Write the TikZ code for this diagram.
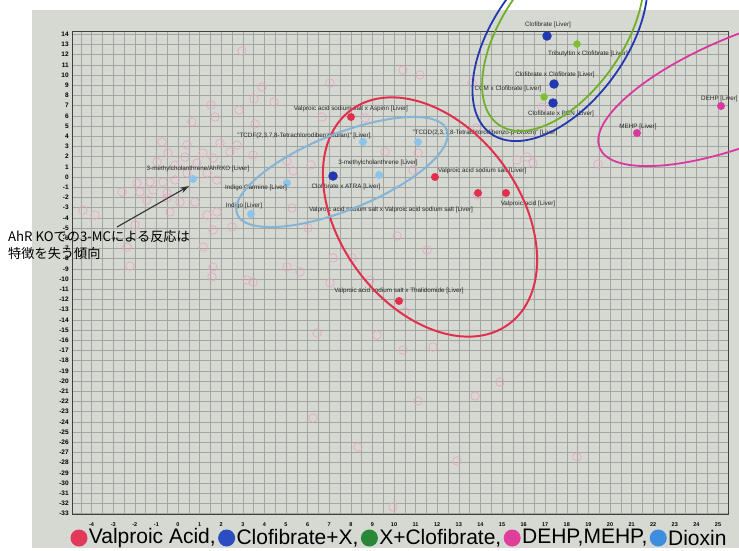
\documentclass[tikz,border=0pt]{standalone}
\usepackage{fontspec}
\setmainfont{Liberation Sans}
\newfontfamily\jpfont{Noto Sans CJK JP}
\usetikzlibrary{positioning}
\usetikzlibrary{arrows.meta}
\definecolor{plotbg}{RGB}{214,216,210}
\definecolor{gridcol}{RGB}{163,166,160}
\definecolor{vared}{RGB}{226,48,76}
\definecolor{cxblue}{RGB}{34,56,176}
\definecolor{xcgreen}{RGB}{124,194,46}
\definecolor{demag}{RGB}{216,56,160}
\definecolor{dxblue}{RGB}{140,196,236}
\definecolor{bgpink}{RGB}{238,160,198}
\definecolor{lgred}{RGB}{226,56,90}
\definecolor{lgblue}{RGB}{42,78,192}
\definecolor{lggreen}{RGB}{40,136,56}
\definecolor{lgmag}{RGB}{224,62,154}
\definecolor{lgsky}{RGB}{62,142,224}
\tikzset{
	ptnode/.style = {circle, inner sep=0pt, minimum size=8pt},
	pt_va/.style = {ptnode, fill=vared},% valproic acid
	pt_cx/.style = {ptnode, fill=cxblue, minimum size=9.5pt},% clofibrate + x
	pt_xc/.style = {ptnode, fill=xcgreen, minimum size=7.5pt},% x + clofibrate
	pt_de/.style = {ptnode, fill=demag},% dehp, mehp
	pt_dx/.style = {ptnode, fill=dxblue},% dioxin
	pt_bg/.style = {ptnode, draw=bgpink, line width=0.6pt, minimum size=8.5pt},% other samples
	lbl/.style = {inner sep=0pt, text=black!85, font=\fontsize{6.3}{7}\selectfont},
	tick_y/.style = {inner sep=0pt, anchor=east, font=\fontsize{6.5}{7}\selectfont\bfseries},
	tick_x/.style = {inner sep=0pt, font=\fontsize{5.5}{6}\selectfont\bfseries},
	gridline/.style = {gridcol, line width=0.5pt},
	plotframe/.style = {draw=black!75, line width=1pt},
	ell/.style = {line width=2pt},
	anno/.style = {inner sep=0pt, align=left, font=\jpfont\fontsize{13.2}{16.5}\selectfont},
	annot/.style = {draw=black!80, line width=1.1pt},
	lg_dot/.style = {circle, inner sep=0pt, minimum size=17pt},
	lg_txt/.style = {inner sep=0pt, font=\fontsize{21}{24}\selectfont}
}
\begin{document}
\begin{tikzpicture}[x=1pt, y=-1pt, >={Stealth[length=9pt,width=6pt]}]
\useasboundingbox (0,0) rectangle (739,550);
\clip (0,0) rectangle (739,550);
\fill[plotbg] (32,10) rectangle (739,548);

% grid and axes, in data units
\begin{scope}[shift={(178,177)}, x=21.6pt, y=10.2pt]
	\foreach \gx in {-4.5,-4,...,25} \draw[gridline] (\gx,-33.1) -- (\gx,14.3);
	\foreach \gy in {-33,...,14} \draw[gridline] (-4.9,\gy) -- (25.5,\gy);
	\draw[plotframe] (-4.9,-33.1) rectangle (25.5,14.3);
	\foreach \gy [count=\i] in {-33,...,14} \node[tick_y] (ty\i) at (-5.05,\gy) {\gy};
	\foreach \gx [count=\i] in {-4,...,25} \node[tick_x] (tx\i) at (\gx,-34.05) {\gx};
\end{scope}

% other samples
\foreach \bx/\by [count=\i] in {242/51,330/83,262/87,254/99,274/102,211/105,239/110,215/117,
	192/122,255/124,322/117,365/118,403/70,420/75,472/83,542/107,476/128,
	162/142,187/145,220/143,237/145,168/153,185/157,203/153,213/158,230/152,
	157/162,175/165,197/163,253/155,287/161,311/165,293/171,137/183,150/182,
	163/182,122/192,140/192,153/190,167/193,175/180,187/173,207/173,217/180,
	147/200,167/198,180/202,195/202,83/210,95/215,170/212,207/215,217/212,
	213/230,232/227,135/225,203/247,127/247,130/266,308/228,292/208,
	385/152,418/153,413/170,517/160,527/157,533/163,598/164,477/195,397/236,
	427/250,333/258,352/258,287/267,300/272,247/280,253/282,330/283,370/280,
	213/267,212/277,405/312,377/335,403/350,433/347,500/382,475/396,418/401,
	457/461,577/457,393/507,317/333,313/418,358/447}
	\node[pt_bg] (bg\i) at (\bx,\by) {};

% valproic acid
\node[pt_va] (va1) at (351,117) {};
\node[pt_va] (va2) at (435,177) {};
\node[pt_va] (va3) at (478,193) {};
\node[pt_va] (va4) at (506,193) {};
\node[pt_va] (va5) at (399,301) {};
\node[lbl] (va1_l) at (351,109) {Valproic acid sodium salt x Aspirin [Liver]};
\node[lbl, anchor=west] (va2_l) at (438,171) {Valproic acid sodium salt [Liver]};
\node[lbl] (va3_l) at (391,210) {Valproic acid sodium salt x Valproic acid sodium salt [Liver]};
\node[lbl] (va4_l) at (528,204) {Valproic acid [Liver]};
\node[lbl] (va5_l) at (399,291) {Valproic acid sodium salt x Thalidomide [Liver]};

% clofibrate + x
\node[pt_cx] (cx1) at (547,36) {};
\node[pt_cx] (cx2) at (554,84) {};
\node[pt_cx] (cx3) at (553,103) {};
\node[pt_cx] (cx4) at (333,176) {};
\node[lbl] (cx1_l) at (548,25) {Clofibrate [Liver]};
\node[lbl] (cx2_l) at (555,75) {Clofibrate x Clofibrate [Liver]};
\node[lbl] (cx3_l) at (561,114) {Clofibrate x PCN [Liver]};
\node[lbl] (cx4_l) at (346,187) {Clofibrate x ATRA [Liver]};

% x + clofibrate
\node[pt_xc] (xc1) at (577,44) {};
\node[pt_xc] (xc2) at (544,97) {};
\node[lbl] (xc1_l) at (588,54) {Tributyltin x Clofibrate [Liver]};
\node[lbl] (xc2_l) at (508,89) {CCM x Clofibrate [Liver]};

% dehp, mehp
\node[pt_de] (de1) at (721,106) {};
\node[pt_de] (de2) at (637,133) {};
\node[lbl, anchor=west] (de1_l) at (701,99) {DEHP [Liver]};
\node[lbl] (de2_l) at (638,127) {MEHP [Liver]};

% dioxin
\node[pt_dx] (dx1) at (193,179) {};
\node[pt_dx] (dx2) at (287,183) {};
\node[pt_dx] (dx3) at (251,214) {};
\node[pt_dx] (dx4) at (363,142) {};
\node[pt_dx] (dx5) at (418,142) {};
\node[pt_dx] (dx6) at (379,175) {};
\node[lbl] (dx1_l) at (198,169) {3-methylcholanthrene/AhRKO [Liver]};
\node[lbl] (dx2_l) at (256,188) {Indigo Carmine [Liver]};
\node[lbl] (dx3_l) at (244,206) {Indigo [Liver]};
\node[lbl] (dx4_l) at (304,136) {"TCDF(2,3,7,8-Tetrachlorodibenzofuran)" [Liver]};
\node[lbl] (dx5_l) at (485,133) {"TCDD(2,3,7,8-Tetrachlorodibenzo-p-Dioxin)" [Liver]};
\node[lbl] (dx6_l) at (378,163) {3-methylcholanthrene [Liver]};

% groups
\draw[ell, vared, rotate around={-53.6:(430,217)}] (430,217) ellipse (133 and 90);
\draw[ell, dxblue!90!black!95, rotate around={22:(342,172)}] (342,172) ellipse (113 and 38);
\draw[ell, line width=1.8pt, cxblue, rotate around={54:(560,38)}] (560,38) ellipse (118 and 66);
\draw[ell, line width=1.8pt, xcgreen!90!black, rotate around={55:(563,33)}] (563,33) ellipse (112 and 60);
\draw[ell, line width=1.8pt, demag, rotate around={22:(748,88)}] (748,88) ellipse (160 and 54);

% note
\node[anno, anchor=west] (anno_txt) at (8,245) {AhR KOでの3-MCによる反応は\\特徴を失う傾向};
\coordinate (ar_tail) at (117,227);
\coordinate (ar_tip) at (189,186);
\draw[->, annot] (ar_tail) -- (ar_tip);

% legend
\node[lg_dot, fill=lgred] (lg_va_dot) at (79,538) {};
\node[lg_txt, right=1pt of lg_va_dot] (lg_va) {Valproic Acid,};
\node[lg_dot, fill=lgblue, right=2pt of lg_va] (lg_cx_dot) {};
\node[lg_txt, right=1pt of lg_cx_dot] (lg_cx) {Clofibrate+X,};
\node[lg_dot, fill=lggreen, right=2pt of lg_cx] (lg_xc_dot) {};
\node[lg_txt, right=1pt of lg_xc_dot] (lg_xc) {X+Clofibrate,};
\node[lg_dot, fill=lgmag, right=2pt of lg_xc] (lg_de_dot) {};
\node[lg_txt, right=1pt of lg_de_dot] (lg_de) {DEHP,MEHP,};
\node[lg_dot, fill=lgsky, right=2pt of lg_de] (lg_dx_dot) {};
\node[lg_txt, right=1pt of lg_dx_dot] (lg_dx) {Dioxin};
\end{tikzpicture}
\end{document}
